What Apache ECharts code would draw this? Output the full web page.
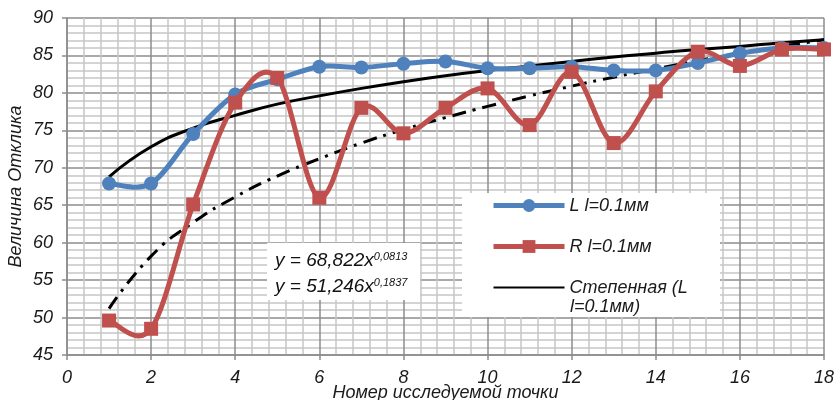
<!DOCTYPE html>
<html>
<head>
<meta charset="utf-8">
<script src="https://cdn.jsdelivr.net/npm/echarts@6/dist/echarts.min.js"></script>
<style>
  html, body { margin: 0; padding: 0; background: #fff; }
  #chart { width: 840px; height: 400px; }
</style>
</head>
<body>
<div id="chart"></div>
<script>
// номера точек
const points = [1, 2, 3, 4, 5, 6, 7, 8, 9, 10, 11, 12, 13, 14, 15, 16, 17, 18];
// L l=0.1мм
const seriesL = [67.9, 67.9, 74.5, 79.8, 81.8, 83.5, 83.4, 83.9, 84.2, 83.3, 83.3, 83.5, 83.0, 83.0, 84.0, 85.3, 86.0, 86.0];
// R l=0.1мм
const seriesR = [49.6, 48.5, 65.1, 78.7, 82.0, 66.0, 78.0, 74.6, 78.0, 80.6, 75.7, 82.8, 73.3, 80.2, 85.5, 83.6, 85.8, 85.8];
// линии тренда
const trendL = [68.8, 72.8, 75.3, 77.0, 78.5, 79.6, 80.6, 81.5, 82.3, 83.0, 83.6, 84.2, 84.8, 85.3, 85.8, 86.2, 86.7, 87.1];
const trendR = [51.2, 58.2, 62.7, 66.1, 68.9, 71.2, 73.3, 75.1, 76.7, 78.2, 79.6, 80.9, 82.1, 83.2, 84.3, 85.3, 86.2, 87.1];
const equations = ['68,822', '0,0813', '51,246', '0,1837'];

const FONT = 'Liberation Sans';
const BLUE = '#4F81BD';
const RED = '#C0504D';
const pairs = (ys) => points.map((x, i) => [x, ys[i]]);

// сглаживание как в Excel (Catmull-Rom -> Безье), по пиксельным координатам от осей
function smoothPath(ys, color) {
  return function (params, api) {
    if (params.dataIndex !== 0) return null;
    const p = points.map((x, i) => api.coord([x, ys[i]]));
    let d = 'M' + p[0][0] + ',' + p[0][1];
    for (let i = 0; i < p.length - 1; i++) {
      const p0 = p[i - 1] || p[i];
      const p1 = p[i];
      const p2 = p[i + 1];
      const p3 = p[i + 2] || p[i + 1];
      const c1x = p1[0] + (p2[0] - p0[0]) / 6, c1y = p1[1] + (p2[1] - p0[1]) / 6;
      const c2x = p2[0] - (p3[0] - p1[0]) / 6, c2y = p2[1] - (p3[1] - p1[1]) / 6;
      d += ' C' + c1x + ',' + c1y + ' ' + c2x + ',' + c2y + ' ' + p2[0] + ',' + p2[1];
    }
    return {
      type: 'path',
      shape: { pathData: d },
      style: { fill: 'none', stroke: color, lineWidth: 5, lineJoin: 'round', lineCap: 'round' }
    };
  };
}

const chart = echarts.init(document.getElementById('chart'));

const majorLine = { show: true, lineStyle: { color: '#8C8C8C', width: 1.5 } };
const minorLine = { show: true, lineStyle: { color: '#C6C6C6', width: 1.5 } };
const labelStyle = { fontFamily: FONT, fontStyle: 'italic', fontSize: 18, color: '#1a1a1a' };

const option = {
  animation: false,
  grid: { left: 67, right: 16, top: 18, bottom: 45, outerBoundsMode: 'none', containLabel: false },
  xAxis: {
    type: 'value', min: 0, max: 18, interval: 2,
    name: 'Номер исследуемой точки', nameLocation: 'middle', nameGap: 29, nameMoveOverlap: false,
    nameTextStyle: { fontFamily: FONT, fontStyle: 'italic', fontSize: 18, color: '#1a1a1a' },
    axisLine: { show: true, lineStyle: { color: '#8C8C8C', width: 1.5 } },
    axisTick: { show: true, length: 5, lineStyle: { color: '#8C8C8C', width: 1.5 } },
    axisLabel: Object.assign({ margin: 14 }, labelStyle),
    splitLine: majorLine,
    minorTick: { show: false, splitNumber: 5 },
    minorSplitLine: minorLine
  },
  yAxis: {
    type: 'value', min: 45, max: 90, interval: 5,
    name: 'Величина Отклика', nameLocation: 'middle', nameGap: 42, nameMoveOverlap: false,
    nameTextStyle: { fontFamily: FONT, fontStyle: 'italic', fontSize: 18, color: '#1a1a1a' },
    axisLine: { show: true, lineStyle: { color: '#8C8C8C', width: 1.5 } },
    axisTick: { show: true, length: 5, lineStyle: { color: '#8C8C8C', width: 1.5 } },
    axisLabel: Object.assign({ margin: 14 }, labelStyle),
    splitLine: majorLine,
    minorTick: { show: false, splitNumber: 5 },
    minorSplitLine: minorLine
  },
  legend: {
    orient: 'vertical', left: 491, top: 195, padding: 0, itemGap: 20,
    itemWidth: 71, itemHeight: 16,
    textStyle: { fontFamily: FONT, fontStyle: 'italic', fontSize: 18, color: '#1a1a1a', lineHeight: 21 },
    data: [
      { name: 'L l=0.1мм', lineStyle: { color: BLUE, width: 5, opacity: 1 } },
      { name: 'R l=0.1мм', lineStyle: { color: RED, width: 5, opacity: 1 } },
      { name: 'Степенная (L l=0.1мм)', itemStyle: { opacity: 0 } }
    ],
    formatter: (name) => name.startsWith('Степенная') ? 'Степенная (L' : name,
    z: 10
  },
  // белые подложки для легенды и уравнений
  graphic: [
    { type: 'rect', shape: { x: 462, y: 193, width: 258, height: 124 }, style: { fill: '#fff' }, z: 5 },
    { type: 'text', x: 570, y: 298, z: 11,
      style: { text: 'l=0.1мм)', fontFamily: FONT, fontStyle: 'italic', fontSize: 18, fill: '#1a1a1a' } },
    { type: 'rect', shape: { x: 267, y: 243, width: 153, height: 57 }, style: { fill: '#fff' }, z: 5 },
    {
      type: 'text', x: 275, y: 248, z: 6,
      style: {
        text: '{a|y = ' + equations[0] + 'x}{s|' + equations[1] + '}\n{a|y = ' + equations[2] + 'x}{s|' + equations[3] + '}',
        fill: '#111',
        rich: {
          a: { fontFamily: FONT, fontStyle: 'italic', fontSize: 19, lineHeight: 26, fill: '#111' },
          s: { fontFamily: FONT, fontStyle: 'italic', fontSize: 11, lineHeight: 26, verticalAlign: 'top', padding: [3, 0, 0, 0], fill: '#111' }
        }
      }
    }
  ],
  series: [
    {
      name: 'Степенная (L l=0.1мм)', type: 'line', smooth: true, data: pairs(trendL),
      showSymbol: false, symbol: 'none', z: 2,
      lineStyle: { color: '#000', width: 3 },
      itemStyle: { color: '#000' }
    },
    {
      name: 'Степенная (R l=0.1мм)', type: 'line', smooth: true, data: pairs(trendR),
      showSymbol: false, symbol: 'none', z: 2,
      lineStyle: { color: '#000', width: 3, type: [14, 7, 3, 7] },
      itemStyle: { color: '#000' }
    },
    // сглаженные линии данных
    { type: 'custom', z: 3, data: pairs(seriesL), renderItem: smoothPath(seriesL, BLUE), silent: true },
    {
      name: 'L l=0.1мм', type: 'line', data: pairs(seriesL),
      symbol: 'circle', symbolSize: 14, z: 3,
      lineStyle: { color: BLUE, width: 5, opacity: 0 },
      itemStyle: { color: BLUE }
    },
    { type: 'custom', z: 4, data: pairs(seriesR), renderItem: smoothPath(seriesR, RED), silent: true },
    {
      name: 'R l=0.1мм', type: 'line', data: pairs(seriesR),
      symbol: 'rect', symbolSize: 14, z: 4,
      lineStyle: { color: RED, width: 5, opacity: 0 },
      itemStyle: { color: RED }
    }
  ]
};

chart.setOption(option);
</script>
</body>
</html>
